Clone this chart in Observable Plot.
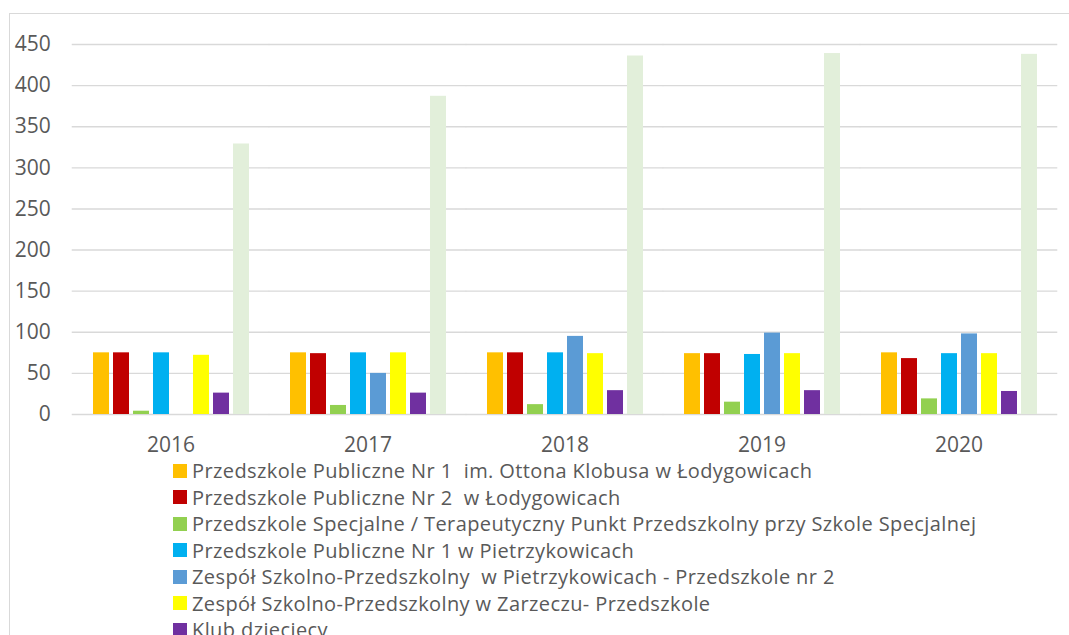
<!DOCTYPE html>
<html>
<head>
<meta charset="utf-8">
<script src="https://cdn.jsdelivr.net/npm/d3@7"></script>
<script src="https://cdn.jsdelivr.net/npm/@observablehq/plot@0.6"></script>
<style>
  html, body { margin: 0; padding: 0; background: #fff; overflow: hidden; width: 1069px; height: 635px; }
  #frame { position: absolute; left: 9px; top: 13px; width: 1100px; height: 700px; border: 1.4px solid #d9d9d9; box-sizing: border-box; }
  #chart { position: absolute; left: 0; top: 0; }
  #legend { position: absolute; left: 173px; top: 457.5px; font-family: "Open Sans", sans-serif; font-size: 20px; letter-spacing: 0.4px; color: #595959; }
  .row { display: flex; align-items: center; height: 26.5px; white-space: pre; }
  .sw { width: 14px; height: 14px; margin-right: 5px; flex: none; }
</style>
</head>
<body>
<div id="frame"></div>
<div id="chart"></div>
<div id="legend"></div>
<script>
const years = ["2016", "2017", "2018", "2019", "2020"];
const seriesNames = [
  "Przedszkole Publiczne Nr 1  im. Ottona Klobusa w Łodygowicach",
  "Przedszkole Publiczne Nr 2  w Łodygowicach",
  "Przedszkole Specjalne / Terapeutyczny Punkt Przedszkolny przy Szkole Specjalnej",
  "Przedszkole Publiczne Nr 1 w Pietrzykowicach",
  "Zespół Szkolno-Przedszkolny  w Pietrzykowicach - Przedszkole nr 2",
  "Zespół Szkolno-Przedszkolny w Zarzeczu- Przedszkole",
  "Klub dziecięcy",
  "Razem"
];
const colors = ["#FFC000", "#C00000", "#92D050", "#00B0F0", "#5B9BD5", "#FFFF00", "#7030A0", "#E2EFDA"];
const pp1Lodygowice = [75, 75, 75, 74, 75];
const pp2Lodygowice = [75, 74, 75, 74, 68];
const specjalne = [4, 11, 12, 15, 19];
const pp1Pietrzykowice = [75, 75, 75, 73, 74];
const zspPietrzykowice = [0, 50, 95, 99, 98];
const zspZarzecze = [72, 75, 74, 74, 74];
const klub = [26, 26, 29, 29, 28];
const razem = [329, 387, 436, 439, 438];
const yTicks = [0, 50, 100, 150, 200, 250, 300, 350, 400, 450];

const seriesValues = [pp1Lodygowice, pp2Lodygowice, specjalne, pp1Pietrzykowice, zspPietrzykowice, zspZarzecze, klub, razem];
const table = [];
years.forEach((yr, i) => {
  seriesNames.forEach((s, j) => {
    table.push({year: yr, series: s, value: seriesValues[j][i]});
  });
});

const W = 1069, ML = 72, MR = 11;
const PI = 0.16, PO = 0.08;
const step = (W - ML - MR) / (years.length - PI + 2 * PO);
const half = step * PI / 2;  // half gap between facet bands, so gridlines join up

const chart = Plot.plot({
  width: W,
  height: 460,
  marginLeft: ML,
  marginRight: MR,
  marginTop: 44,
  marginBottom: 46,
  style: {fontFamily: "Open Sans, sans-serif", fontSize: "21px", color: "#595959", background: "transparent"},
  fx: {domain: years, paddingInner: PI, paddingOuter: PO, label: null},
  x: {domain: seriesNames, paddingInner: 0.2, paddingOuter: 0.06, axis: null},
  y: {domain: [0, 450], axis: null},
  color: {domain: seriesNames, range: colors},
  marks: [
    Plot.ruleY(yTicks, {y: d => d, stroke: "#d9d9d9", strokeWidth: 1.4, strokeOpacity: 1, insetLeft: -half - 0.5, insetRight: -half - 0.5}),
    Plot.barY(table, {fx: "year", x: "series", y: "value", fill: "series"}),
    Plot.axisY(yTicks, {anchor: "left", tickSize: 0, tickPadding: step * PO + 22, label: null, fill: "#595959"}),
    Plot.axisFx({anchor: "bottom", tickSize: 0, tickPadding: 23, label: null, fill: "#595959"})
  ]
});
document.getElementById("chart").appendChild(chart);

const legend = document.getElementById("legend");
seriesNames.forEach((s, j) => {
  const row = document.createElement("div");
  row.className = "row";
  const sw = document.createElement("span");
  sw.className = "sw";
  sw.style.background = colors[j];
  const t = document.createElement("span");
  t.textContent = s;
  row.appendChild(sw);
  row.appendChild(t);
  legend.appendChild(row);
});
</script>
</body>
</html>
